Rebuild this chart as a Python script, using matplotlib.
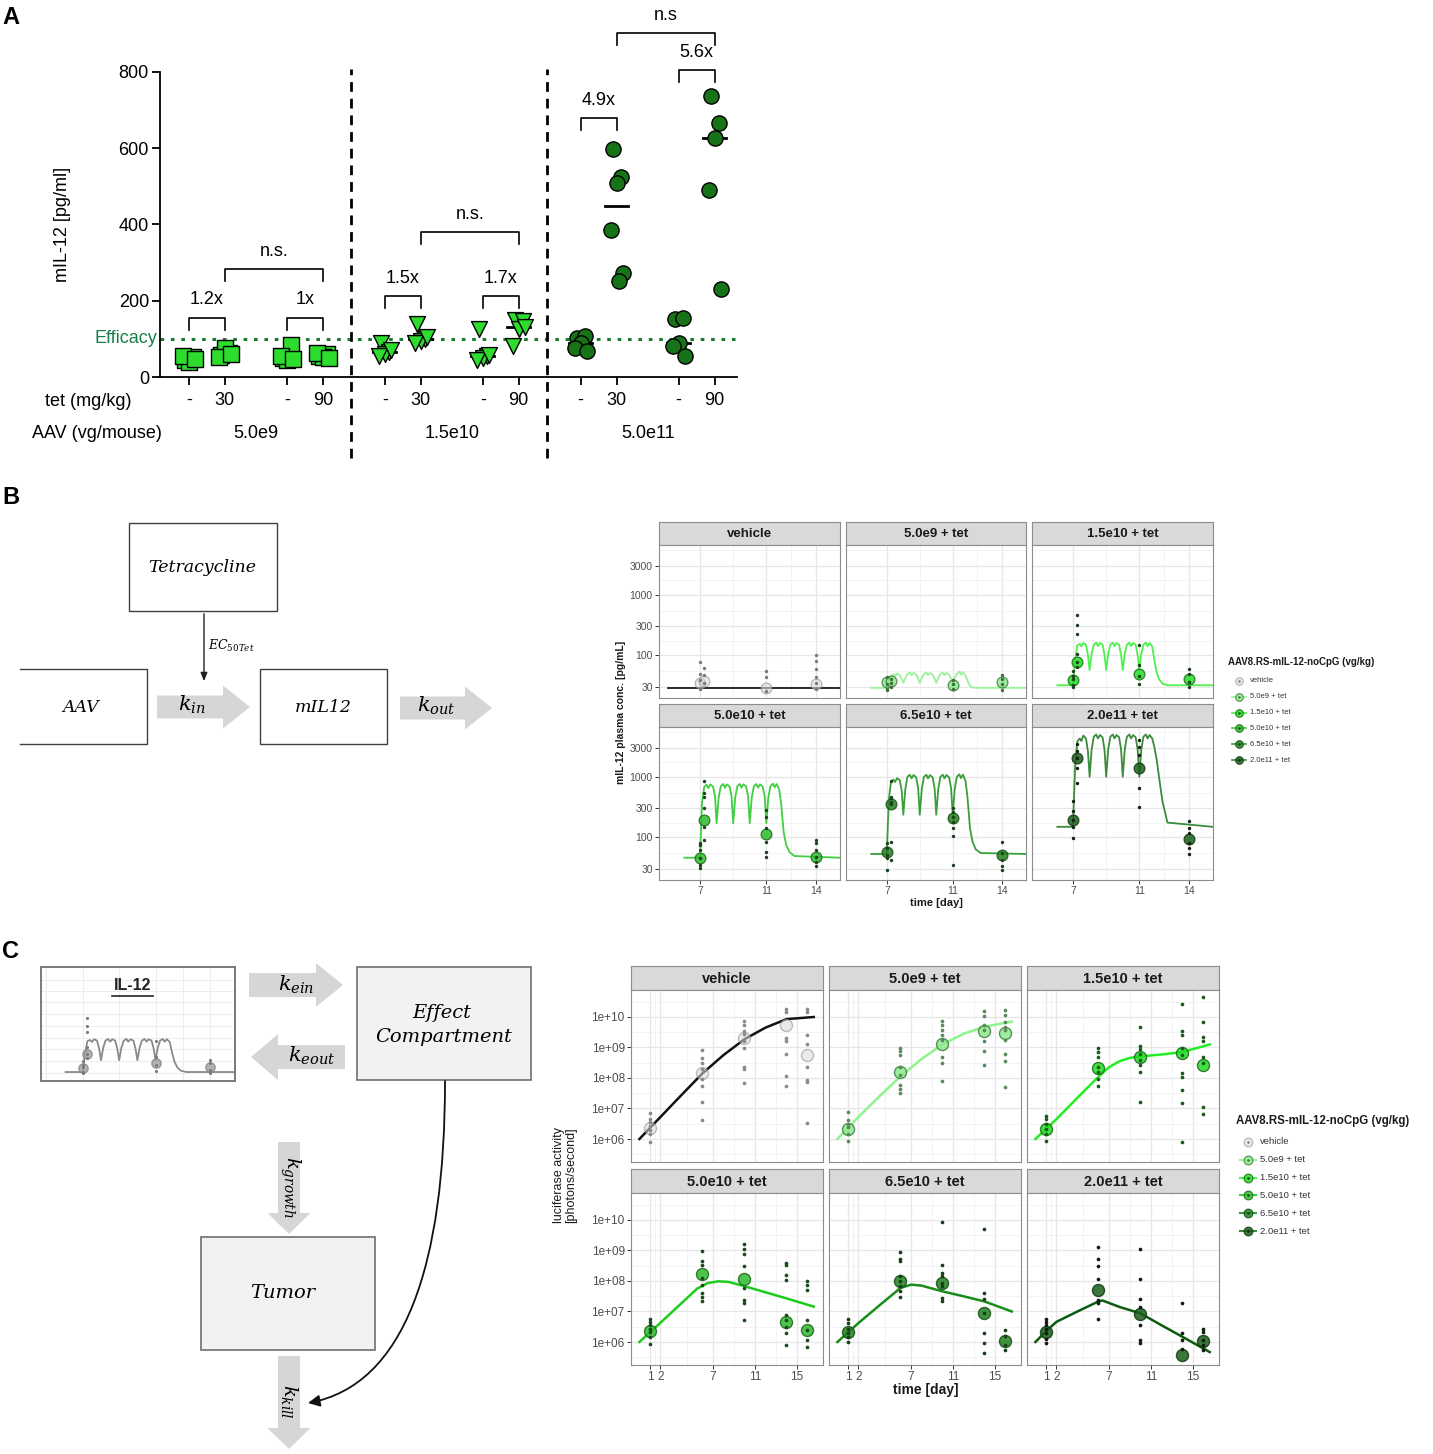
import numpy as np
import matplotlib
matplotlib.use("Agg")
import matplotlib.pyplot as plt
import matplotlib.transforms as mtransforms
from matplotlib.patches import Rectangle, FancyArrow, FancyArrowPatch
from matplotlib.path import Path
from matplotlib.ticker import NullFormatter

plt.rcParams['font.family'] = ['Liberation Sans', 'DejaVu Sans']
plt.rcParams['mathtext.fontset'] = 'dejavuserif'

# ======================= DATA =======================
# ---- Panel A: mIL-12 [pg/ml] ----
A_tet_labels = ['-', '30', '-', '90', '-', '30', '-', '90', '-', '30', '-', '90']
A_aav_labels = ['5.0e9', '1.5e10', '5.0e11']
A_5e9_ctrl_a = [45, 52, 40, 56, 48]
A_5e9_tet30 = [58, 62, 75, 52, 60]
A_5e9_ctrl_b = [50, 85, 45, 55, 48]
A_5e9_tet90 = [55, 60, 52, 63, 50]
A_15e10_ctrl_a = [90, 65, 60, 55, 70]
A_15e10_tet30 = [138, 100, 95, 88, 105]
A_15e10_ctrl_b = [125, 55, 50, 45, 58]
A_15e10_tet90 = [150, 148, 125, 82, 130]
A_5e11_ctrl_a = [103, 108, 88, 77, 68]
A_5e11_tet30 = [598, 525, 509, 386, 273, 252]
A_5e11_ctrl_b = [153, 156, 90, 82, 55]
A_5e11_tet90 = [737, 666, 627, 490, 231]
A_efficacy = 100
A_bracket_pairs = [(0, 1), (2, 3), (1, 3), (4, 5), (6, 7), (5, 7), (8, 9), (10, 11), (9, 11)]
A_bracket_heights = [155, 155, 283, 212, 212, 380, 679, 805, 902]
A_bracket_labels = ['1.2x', '1x', 'n.s.', '1.5x', '1.7x', 'n.s.', '4.9x', '5.6x', 'n.s']

# ---- Panel B: mIL-12 plasma conc. [pg/mL] ----
B_names = ['vehicle', '5.0e9 + tet', '1.5e10 + tet', '5.0e10 + tet', '6.5e10 + tet', '2.0e11 + tet']
B_obs_days = [7, 7.25, 11, 14]
B_vehicle_obs = [[77, 50, 39, 28], [62, 48, 35], [55, 44, 26], [102, 80, 59, 44, 35, 28]]
B_vehicle_mean = [35, 37, 29, 34]
B_5e9_obs = [[44, 34, 28, 27], [40, 35, 30], [39, 33, 28], [48, 41, 33, 27]]
B_5e9_mean = [36, 37, 32, 36]
B_15e10_obs = [[56, 46, 40, 32, 30], [455, 313, 228, 107, 78, 64], [146, 68, 46, 34], [59, 50, 36, 30]]
B_15e10_mean = [39, 78, 50, 41]
B_5e10_obs = [[80, 75, 62, 45, 35, 31], [840, 540, 470, 300, 150, 90], [285, 220, 140, 85, 58, 48],
              [90, 80, 62, 48, 39, 33]]
B_5e10_mean = [46, 194, 113, 48]
B_65e10_obs = [[80, 66, 51, 45, 29], [840, 470, 440, 390, 350, 85, 42], [300, 265, 220, 182, 140, 104, 35],
               [85, 55, 42, 33, 29]]
B_65e10_mean = [58, 355, 212, 51]
B_2e11_obs = [[392, 267, 195, 150, 96], [3420, 2646, 2047, 1397, 789], [3980, 3070, 2330, 651, 312],
              [183, 142, 117, 80, 66, 52]]
B_2e11_mean = [195, 2047, 1397, 94]
B_vehicle_curve_t = [5.07, 15.45]
B_vehicle_curve = [29, 29]
B_curve_t = [6.05, 6.95,
             7.0, 7.12, 7.25, 7.4, 7.5, 7.62, 7.78, 7.9,
             8.0, 8.12, 8.25, 8.4, 8.5, 8.62, 8.78, 8.9,
             9.0, 9.12, 9.25, 9.4, 9.5, 9.62, 9.78, 9.9,
             10.0, 10.12, 10.25, 10.4, 10.5, 10.62, 10.78, 10.9,
             11.0, 11.12, 11.25, 11.4, 11.5, 11.62, 11.78, 11.9,
             12.05, 12.2, 12.4, 12.7, 15.45]
B_5e9_curve = [29, 29,
               30, 38, 46, 48, 45, 50, 47, 41,
               35, 42, 49, 52, 47, 51, 48, 41,
               35, 42, 49, 52, 47, 51, 48, 41,
               35, 42, 49, 52, 47, 51, 48, 41,
               35, 42, 49, 54, 48, 53, 46, 38,
               31, 29.5, 29, 29, 29]
B_15e10_curve = [32, 32,
                 34, 80, 145, 155, 140, 160, 150, 100,
                 57, 105, 150, 162, 142, 160, 150, 100,
                 57, 105, 150, 162, 142, 160, 150, 100,
                 57, 105, 150, 162, 142, 160, 150, 100,
                 57, 105, 150, 162, 142, 160, 140, 85,
                 52, 40, 34, 32, 32]
B_5e10_curve = [46, 46,
                50, 380, 680, 740, 650, 750, 690, 480,
                171, 450, 700, 760, 660, 750, 690, 480,
                171, 450, 700, 760, 660, 750, 690, 480,
                171, 450, 700, 760, 660, 750, 690, 480,
                171, 450, 700, 770, 670, 760, 620, 350,
                120, 75, 57, 49, 46]
B_65e10_curve = [53, 53,
                 58, 420, 820, 900, 820, 950, 880, 600,
                 236, 620, 1000, 1080, 940, 1070, 980, 650,
                 236, 620, 1000, 1080, 940, 1070, 980, 650,
                 236, 620, 1000, 1080, 940, 1070, 980, 650,
                 236, 620, 1000, 1100, 950, 1090, 850, 450,
                 140, 85, 63, 55, 53]
B_2e11_curve = [149, 149,
                170, 1400, 3800, 4300, 3900, 4800, 4300, 2600,
                1000, 2800, 4600, 5000, 4300, 4900, 4500, 2800,
                1000, 2800, 4600, 5000, 4300, 4900, 4500, 2800,
                1000, 2800, 4600, 5000, 4300, 4900, 4500, 2800,
                1000, 2800, 4600, 5000, 4300, 4900, 4300, 3200,
                1900, 950, 390, 175, 149]
B_yticks = [30, 100, 300, 1000, 3000]
B_xticks = [7, 11, 14]

# ---- Panel C: luciferase activity (log10 photons/second) ----
C_days = [1, 6, 10, 14, 16]
C_vehicle_obs = [[6.85, 6.66, 6.55, 6.44, 6.28, 6.17, 5.89], [8.92, 8.64, 8.48, 8.31, 7.98, 7.73, 7.21, 6.63],
                 [9.88, 9.75, 9.53, 9.45, 9.20, 8.98, 8.37, 8.31, 7.82], [10.26, 10.18, 9.31, 9.20, 8.78, 8.06, 7.73],
                 [10.26, 10.18, 9.42, 9.12, 8.37, 7.93, 7.87, 6.52]]
C_vehicle_mean = [6.36, 8.17, 9.31, 9.75, 8.75]
C_5e9_obs = [[6.88, 6.61, 6.50, 6.39, 6.17, 5.94], [8.98, 8.87, 8.75, 8.37, 8.09, 7.76, 7.65, 7.51],
             [9.88, 9.75, 9.58, 9.42, 9.25, 8.70, 8.50, 7.90], [10.19, 10.02, 9.75, 9.58, 9.20, 8.87, 8.42],
             [10.23, 10.07, 9.85, 9.68, 9.57, 9.25, 8.79, 8.57, 7.72]]
C_5e9_mean = [6.33, 8.20, 9.12, 9.53, 9.47]
C_15e10_obs = [[6.77, 6.67, 6.50, 6.34, 6.17, 5.95], [8.97, 8.86, 8.70, 8.37, 8.20, 7.98, 7.73],
               [9.66, 9.05, 8.94, 8.79, 8.59, 8.42, 8.20, 7.22],
               [10.42, 9.55, 9.41, 8.97, 8.75, 8.15, 8.04, 7.60, 7.17, 5.89],
               [10.65, 9.85, 9.36, 9.20, 8.70, 8.48, 7.06, 6.82]]
C_15e10_mean = [6.34, 8.34, 8.70, 8.81, 8.42]
C_5e10_obs = [[6.77, 6.66, 6.55, 6.44, 6.33, 6.17, 5.94], [8.98, 8.65, 8.54, 8.10, 7.88, 7.60, 7.49, 7.33],
              [9.20, 9.04, 8.87, 8.49, 7.77, 7.38, 7.27, 6.72], [8.60, 8.51, 8.21, 8.04, 6.88, 6.72, 6.50, 6.28, 5.89],
              [7.99, 7.88, 7.71, 6.72, 6.39, 6.06, 5.83]]
C_5e10_mean = [6.36, 8.24, 8.07, 6.66, 6.39]
C_65e10_obs = [[6.77, 6.61, 6.44, 6.28, 6.17, 6.00], [8.95, 8.71, 8.65, 8.15, 7.99, 7.82, 7.66, 7.49],
               [9.92, 8.54, 8.27, 8.15, 7.93, 7.82, 7.44, 7.33], [9.70, 7.60, 7.40, 6.94, 6.30, 5.97, 5.64],
               [6.40, 6.20, 5.90, 5.74]]
C_65e10_mean = [6.33, 7.99, 7.93, 6.94, 6.03]
C_2e11_obs = [[6.77, 6.66, 6.55, 6.44, 6.28, 6.11, 5.97], [9.13, 8.73, 8.49, 8.07, 7.38, 7.29, 6.77],
              [9.06, 8.07, 7.41, 7.16, 6.55, 6.06, 5.97], [7.27, 6.28, 6.06, 5.78], [6.44, 6.33, 6.06, 5.89, 5.75]]
C_2e11_mean = [6.33, 7.69, 6.92, 5.56, 6.03]
C_vehicle_curve_t = [0, 2, 4, 6, 8, 10, 12, 14, 16.6]
C_vehicle_curve = [6.0, 6.72, 7.44, 8.15, 8.75, 9.27, 9.65, 9.93, 10.0]
C_5e9_curve_t = [0, 2, 4, 6, 8, 10, 12, 14, 16.6]
C_5e9_curve = [6.0, 6.72, 7.4, 8.05, 8.62, 9.1, 9.45, 9.68, 9.85]
C_15e10_curve_t = [0, 2, 4, 6, 7, 8, 9, 10, 12, 14, 16.6]
C_15e10_curve = [6.0, 6.65, 7.35, 8.04, 8.35, 8.55, 8.66, 8.71, 8.77, 8.85, 9.10]
C_5e10_curve_t = [0, 2, 4, 5.5, 6.5, 7.5, 8.5, 10, 12, 14, 16.6]
C_5e10_curve = [6.0, 6.63, 7.27, 7.75, 7.93, 7.99, 7.97, 7.83, 7.63, 7.43, 7.16]
C_65e10_curve_t = [0, 2, 4, 6, 7, 8, 10, 12, 14, 16.6]
C_65e10_curve = [6.0, 6.62, 7.2, 7.77, 7.88, 7.85, 7.66, 7.5, 7.33, 7.0]
C_2e11_curve_t = [0, 1, 2, 4, 6, 6.4, 8, 10, 12, 14, 16.6]
C_2e11_curve = [6.0, 6.35, 6.66, 7.0, 7.33, 7.36, 7.15, 6.94, 6.55, 6.17, 5.67]
C_yticks_log = [6, 7, 8, 9, 10]
C_xticks = [1, 2, 7, 11, 15]

# ======================= STYLE =======================
line_cols = ['#1A1A1A', '#9AF29A', '#4DF04D', '#40CF40', '#3A9E3A', '#3C8A3C']
mean_fc = ['#DADADA', '#8EE88E', '#22DD22', '#2EBB2E', '#1F801F', '#1A5E1A']
mean_ec = ['#8A8A8A', '#3F7F3F', '#1A6A1A', '#1A6A1A', '#164F16', '#0F3A0F']
dot_cols = ['#7A7A7A', '#3F6F3F', '#1C3F1C', '#1C3F1C', '#1C3F1C', '#141F14']
C_line_cols = ['#111111', '#8CF58C', '#22EE22', '#1ECC1E', '#1A8C1A', '#0E5A0E']
C_dot_cols = ['#8A8A8A', '#5A8A5A', '#1C5A1C', '#1C4A1C', '#163F16', '#111A11']

W, H = 1433, 1454
fig = plt.figure(figsize=(W / 100, H / 100), dpi=100)
fig.patch.set_facecolor('white')


def px_axes(x0, y0, x1, y1, **kw):
    return fig.add_axes([x0 / W, 1 - y1 / H, (x1 - x0) / W, (y1 - y0) / H], **kw)


ov = px_axes(0, 0, W, H)
ov.set_xlim(0, W)
ov.set_ylim(H, 0)
ov.axis('off')

for lab, (x, y) in zip(['A', 'B', 'C'], [(11, 18), (11, 497), (11, 952)]):
    ov.text(x, y, lab, fontsize=17, fontweight='bold', ha='center', va='center')

# ======================= PANEL A =======================
A_groups = [A_5e9_ctrl_a, A_5e9_tet30, A_5e9_ctrl_b, A_5e9_tet90,
            A_15e10_ctrl_a, A_15e10_tet30, A_15e10_ctrl_b, A_15e10_tet90,
            A_5e11_ctrl_a, A_5e11_tet30, A_5e11_ctrl_b, A_5e11_tet90]
A_pos = [2.72 * (i // 2) + (i % 2) for i in range(12)]
A_markers = ['s'] * 4 + ['v'] * 4 + ['o'] * 4
A_sizes = [120] * 4 + [130] * 4 + [120] * 4
A_fill = ['#2EDC2E'] * 8 + ['#177317'] * 4
jit = [-0.11, 0.11, 0.0, -0.17, 0.17, 0.05]

axA = px_axes(160, 72, 737, 377)
axA.set_xlim(-0.8, 15.22)
axA.set_ylim(0, 800)
for sp in ['top', 'right']:
    axA.spines[sp].set_visible(False)
for sp in ['left', 'bottom']:
    axA.spines[sp].set_linewidth(1.3)
for i, vals in enumerate(A_groups):
    xs = [A_pos[i] + jit[k % len(jit)] for k in range(len(vals))]
    med = np.median(vals)
    axA.plot([A_pos[i] - 0.32, A_pos[i] + 0.32], [med, med], color='black', lw=2, zorder=2)
    axA.scatter(xs, vals, marker=A_markers[i], s=A_sizes[i], fc=A_fill[i], ec='black', lw=1.0, zorder=3)
axA.axhline(A_efficacy, color='#1E7B2E', ls=(0, (1.2, 2.2)), lw=2.2, zorder=1)
blendA = mtransforms.blended_transform_factory(axA.transAxes, axA.transData)
axA.text(-0.005, A_efficacy, 'Efficacy', transform=blendA, ha='right', va='center', color='#17804A', fontsize=13)
axA.set_yticks([0, 200, 400, 600, 800])
axA.set_xticks(A_pos)
axA.set_xticklabels(A_tet_labels)
axA.tick_params(axis='both', length=6, width=1.3, labelsize=13, direction='out')
axA.tick_params(axis='x', pad=5)
axA.tick_params(axis='y', pad=2)
axA.set_ylabel('mIL-12 [pg/ml]', fontsize=13)
axA.yaxis.set_label_coords(-0.155, 0.5)
for k in range(2):
    sep = (A_pos[4 * k + 3] + A_pos[4 * k + 4]) / 2 - 0.08
    axA.axvline(sep, ymin=-0.266, ymax=1.01, color='black', ls=(0, (3.5, 2.5)), lw=2, clip_on=False)
for (i1, i2), yb, lab in zip(A_bracket_pairs, A_bracket_heights, A_bracket_labels):
    x1, x2 = A_pos[i1], A_pos[i2]
    axA.plot([x1, x1, x2, x2], [yb - 31, yb, yb, yb - 31], color='black', lw=1.2, clip_on=False)
    axA.text((x1 + x2) / 2, yb + 47, lab, ha='center', va='center', fontsize=13)
blendA2 = mtransforms.blended_transform_factory(axA.transData, axA.transAxes)
for k, lab in enumerate(A_aav_labels):
    axA.text((A_pos[4 * k] + A_pos[4 * k + 3]) / 2, -0.184, lab, transform=blendA2,
             ha='center', va='center', fontsize=13)
axA.text(-0.125, -0.079, 'tet (mg/kg)', transform=axA.transAxes, ha='center', va='center', fontsize=13)
axA.text(-0.109, -0.184, 'AAV (vg/mouse)', transform=axA.transAxes, ha='center', va='center', fontsize=13)


# ======================= FACET HELPERS =======================
def make_facet(x0, x1, y0, y1, strip_h, title, strip_fs):
    st = px_axes(x0, y0 - strip_h, x1, y0)
    st.set_facecolor('#D9D9D9')
    st.set_xticks([])
    st.set_yticks([])
    for s in st.spines.values():
        s.set_color('#8C8C8C')
        s.set_linewidth(0.8)
    st.text(0.5, 0.46, title, ha='center', va='center', fontsize=strip_fs, fontweight='bold',
            color='#1A1A1A', transform=st.transAxes)
    ax = px_axes(x0, y0, x1, y1)
    for s in ax.spines.values():
        s.set_color('#8C8C8C')
        s.set_linewidth(0.8)
    ax.set_yscale('log')
    return ax


def style_axes(ax, xlim, ylim, xmaj, xmin_, ymaj, ymin_, ylabels, show_x, show_y, fs):
    ax.set_xlim(*xlim)
    ax.set_ylim(*ylim)
    ax.set_xticks(xmaj)
    ax.set_xticks(xmin_, minor=True)
    ax.set_yticks(ymaj)
    ax.set_yticks(ymin_, minor=True)
    ax.yaxis.set_minor_formatter(NullFormatter())
    ax.xaxis.set_minor_formatter(NullFormatter())
    ax.set_yticklabels(ylabels if show_y else [''] * len(ymaj))
    ax.set_xticklabels([str(v) for v in xmaj] if show_x else [''] * len(xmaj))
    ax.grid(True, which='major', color='#E6E6E6', lw=0.9)
    ax.grid(True, which='minor', color='#F1F1F1', lw=0.6)
    ax.set_axisbelow(True)
    ax.tick_params(which='minor', length=0)
    ax.tick_params(axis='y', which='major', length=3 if show_y else 0, width=0.7, color='#333333',
                   labelsize=fs, labelcolor='#4D4D4D', pad=1.5)
    ax.tick_params(axis='x', which='major', length=3 if show_x else 0, width=0.7, color='#333333',
                   labelsize=fs, labelcolor='#4D4D4D', pad=1.5)


# ======================= PANEL B (right) =======================
B_obs = [B_vehicle_obs, B_5e9_obs, B_15e10_obs, B_5e10_obs, B_65e10_obs, B_2e11_obs]
B_means = [B_vehicle_mean, B_5e9_mean, B_15e10_mean, B_5e10_mean, B_65e10_mean, B_2e11_mean]
B_curves_t = [B_vehicle_curve_t] + [B_curve_t] * 5
B_curves = [B_vehicle_curve, B_5e9_curve, B_15e10_curve, B_5e10_curve, B_65e10_curve, B_2e11_curve]
B_cols_px = [(659, 840), (846, 1026), (1032, 1213)]
B_rows_px = [(545, 698), (727, 880)]
B_yminor = [54.8, 173, 548, 1732, 5477]
for i, name in enumerate(B_names):
    r, c = divmod(i, 3)
    ax = make_facet(B_cols_px[c][0], B_cols_px[c][1], B_rows_px[r][0], B_rows_px[r][1], 23, name, 9.5)
    style_axes(ax, (4.52, 15.45), (19.7, 6650), B_xticks, [9, 12.5], B_yticks, B_yminor,
               [str(v) for v in B_yticks], r == 1, c == 0, 7.5)
    ax.plot(B_curves_t[i], B_curves[i], color=line_cols[i], lw=1.3, zorder=2)
    ax.scatter(B_obs_days, B_means[i], s=60, fc=mean_fc[i], ec=mean_ec[i], lw=0.9,
               alpha=0.85 if i else 0.6, zorder=3)
    for d, vals in zip(B_obs_days, B_obs[i]):
        ax.scatter([d] * len(vals), vals, s=6, c=dot_cols[i], lw=0, zorder=4)

ov.text(621, 712, 'mIL-12 plasma conc. [pg/mL]', rotation=90, ha='center', va='center', fontsize=7.5,
        fontweight='bold', color='#1A1A1A')
ov.text(936, 903, 'time [day]', ha='center', va='center', fontsize=8, fontweight='bold', color='#1A1A1A')


def draw_legend(x, y_title, dy, first, title_fs, fs, ms, lw, seg):
    ov.text(x, y_title, 'AAV8.RS-mIL-12-noCpG (vg/kg)', fontweight='bold', fontsize=title_fs,
            va='center', ha='left', color='#1A1A1A')
    for i, lab in enumerate(B_names):
        yy = y_title + first + dy * i
        xc = x + seg + 4
        if i > 0:
            ov.plot([xc - seg, xc + seg], [yy, yy], color=line_cols[i], lw=lw, zorder=2)
        ov.scatter([xc], [yy], s=ms, fc=mean_fc[i], ec=mean_ec[i], lw=0.8, alpha=0.85 if i else 0.6, zorder=3)
        ov.scatter([xc], [yy], s=3, c=dot_cols[i], lw=0, zorder=4)
        ov.text(xc + seg + 4, yy, lab, fontsize=fs, va='center', ha='left', color='#333333')


draw_legend(1228, 662, 15.8, 19, 7, 5.5, 30, 1.2, 7)

# ======================= PANEL C (right) =======================
C_obs = [C_vehicle_obs, C_5e9_obs, C_15e10_obs, C_5e10_obs, C_65e10_obs, C_2e11_obs]
C_means = [C_vehicle_mean, C_5e9_mean, C_15e10_mean, C_5e10_mean, C_65e10_mean, C_2e11_mean]
C_curves_t = [C_vehicle_curve_t, C_5e9_curve_t, C_15e10_curve_t, C_5e10_curve_t, C_65e10_curve_t, C_2e11_curve_t]
C_curves = [C_vehicle_curve, C_5e9_curve, C_15e10_curve, C_5e10_curve, C_65e10_curve, C_2e11_curve]
C_cols_px = [(631, 823), (829, 1021), (1027, 1219)]
C_rows_px = [(990, 1162), (1193, 1365)]
C_ymaj = [10.0 ** v for v in C_yticks_log]
C_ymin = [10.0 ** (v + 0.5) for v in [5] + C_yticks_log]
C_ylabels = ['1e+0%d' % v if v < 10 else '1e+%d' % v for v in C_yticks_log]
for i, name in enumerate(B_names):
    r, c = divmod(i, 3)
    ax = make_facet(C_cols_px[c][0], C_cols_px[c][1], C_rows_px[r][0], C_rows_px[r][1], 24, name, 10.5)
    style_axes(ax, (-0.8, 17.48), (10 ** 5.246, 10 ** 10.885), C_xticks, [1.5, 4.5, 9, 13], C_ymaj, C_ymin,
               C_ylabels, r == 1, c == 0, 8.5)
    ax.plot(C_curves_t[i], [10.0 ** v for v in C_curves[i]], color=C_line_cols[i], lw=1.8, zorder=2)
    ax.scatter(C_days, [10.0 ** v for v in C_means[i]], s=75, fc=mean_fc[i], ec=mean_ec[i], lw=1.0,
               alpha=0.85 if i else 0.55, zorder=3)
    for d, vals in zip(C_days, C_obs[i]):
        ax.scatter([d] * len(vals), [10.0 ** v for v in vals], s=7, c=C_dot_cols[i], lw=0, zorder=4)

ov.text(565, 1175, 'luciferase activity\n[photons/second]', rotation=90, ha='center', va='center',
        fontsize=9, color='#1A1A1A', linespacing=1.1)
ov.text(926, 1390, 'time [day]', ha='center', va='center', fontsize=10, fontweight='bold', color='#1A1A1A')
draw_legend(1236, 1121, 17.8, 21, 8.3, 6.8, 40, 1.5, 8)

# ======================= DIAGRAMS =======================
SERIF = dict(family='DejaVu Serif', style='italic')
ARROW_GRAY = '#D6D6D6'


def box(x0, y0, x1, y1, fc='white', ec='#404040', lw=1.0, sides='all'):
    if sides == 'all':
        ov.add_patch(Rectangle((x0, y0), x1 - x0, y1 - y0, fc=fc, ec=ec, lw=lw, zorder=2))
    else:
        ov.plot([x0, x1, x1, x0], [y0, y0, y1, y1], color=ec, lw=lw, zorder=2)


def block_arrow(x, y, dx, dy, width, head_width, head_length):
    ov.add_patch(FancyArrow(x, y, dx, dy, width=width, head_width=head_width, head_length=head_length,
                            length_includes_head=True, fc=ARROW_GRAY, ec='none', zorder=1))


# Panel B diagram
box(129, 523, 277, 611)
ov.text(202, 567, 'Tetracycline', ha='center', va='center', fontsize=12.5, **SERIF)
box(20, 669, 147, 744, sides='open')
ov.text(81, 707, 'AAV', ha='center', va='center', fontsize=12.5, **SERIF)
box(260, 669, 387, 744)
ov.text(323, 707, 'mIL12', ha='center', va='center', fontsize=12.5, **SERIF)
block_arrow(157, 707, 93, 0, 23, 43, 27)
ov.text(192, 705, r'$k_{in}$', ha='center', va='center', fontsize=15)
block_arrow(400, 708, 92, 0, 23, 43, 27)
ov.text(436, 706, r'$k_{out}$', ha='center', va='center', fontsize=15)
ov.annotate('', xy=(204, 684), xytext=(204, 611),
            arrowprops=dict(arrowstyle='-|>,head_length=0.5,head_width=0.2', color='#222222', lw=1.0))
ov.text(208, 646, r'$EC_{50Tet}$', ha='left', va='center', fontsize=9)

# Panel C diagram
block_arrow(249, 985, 94, 0, 24, 44, 27)
ov.text(296, 985, r'$k_{ein}$', ha='center', va='center', fontsize=15)
block_arrow(345, 1057, -94, 0, 24, 46, 27)
ov.text(312, 1056, r'$k_{eout}$', ha='center', va='center', fontsize=15)
box(357, 967, 531, 1080, fc='#F2F2F2', ec='#6E6E6E', lw=1.2)
ov.text(442, 1013, 'Effect', ha='center', va='center', fontsize=14, **SERIF)
ov.text(444, 1037, 'Compartment', ha='center', va='center', fontsize=14, **SERIF)
block_arrow(289, 1142, 0, 92, 22, 43, 21)
ov.text(290, 1187, r'$k_{growth}$', rotation=-90, ha='center', va='center', fontsize=14)
box(201, 1237, 375, 1350, fc='#F2F2F2', ec='#6E6E6E', lw=1.2)
ov.text(283, 1293, 'Tumor', ha='center', va='center', fontsize=14, **SERIF)
block_arrow(289, 1356, 0, 93, 22, 43, 21)
ov.text(290, 1401, r'$k_{kill}$', rotation=-90, ha='center', va='center', fontsize=14)
curve = Path([(445, 1081), (445, 1265), (405, 1385), (308, 1403)],
             [Path.MOVETO, Path.CURVE4, Path.CURVE4, Path.CURVE4])
ov.add_patch(FancyArrowPatch(path=curve, arrowstyle='-|>,head_length=0.5,head_width=0.25',
                             mutation_scale=14, lw=1.3, color='#111111', zorder=3))

# mini IL-12 chart (1.5e10 + tet profile in grey)
axm = px_axes(41, 967, 235, 1081)
axm.set_yscale('log')
axm.set_xlim(4.7, 15.37)
axm.set_ylim(20.6, 5550)
axm.set_xticks([5, 7, 9, 11, 12.5, 14])
axm.set_yticks([30, 54.8, 100, 173, 300, 548, 1000, 1732, 3000])
axm.yaxis.set_minor_locator(matplotlib.ticker.NullLocator())
axm.tick_params(length=0, labelleft=False, labelbottom=False)
axm.grid(True, color='#EDEDED', lw=0.7)
axm.set_axisbelow(True)
for s in axm.spines.values():
    s.set_color('#7A7A7A')
    s.set_linewidth(1.4)
axm.plot(B_curve_t, B_15e10_curve, color='#8A8A8A', lw=1.3, zorder=2)
axm.scatter(B_obs_days, B_15e10_mean, s=45, fc='#A0A0A0', ec='#888888', alpha=0.8, zorder=3)
for d, vals in zip(B_obs_days, B_15e10_obs):
    axm.scatter([d] * len(vals), vals, s=5, c='#7A7A7A', lw=0, zorder=4)
axm.text(0.47, 0.84, 'IL-12', transform=axm.transAxes, ha='center', va='center', fontsize=11.5,
         fontweight='bold', color='#222222')
axm.plot([0.365, 0.578], [0.745, 0.745], transform=axm.transAxes, color='#222222', lw=1.2)

fig.savefig('out.png', dpi=100, facecolor='white')
